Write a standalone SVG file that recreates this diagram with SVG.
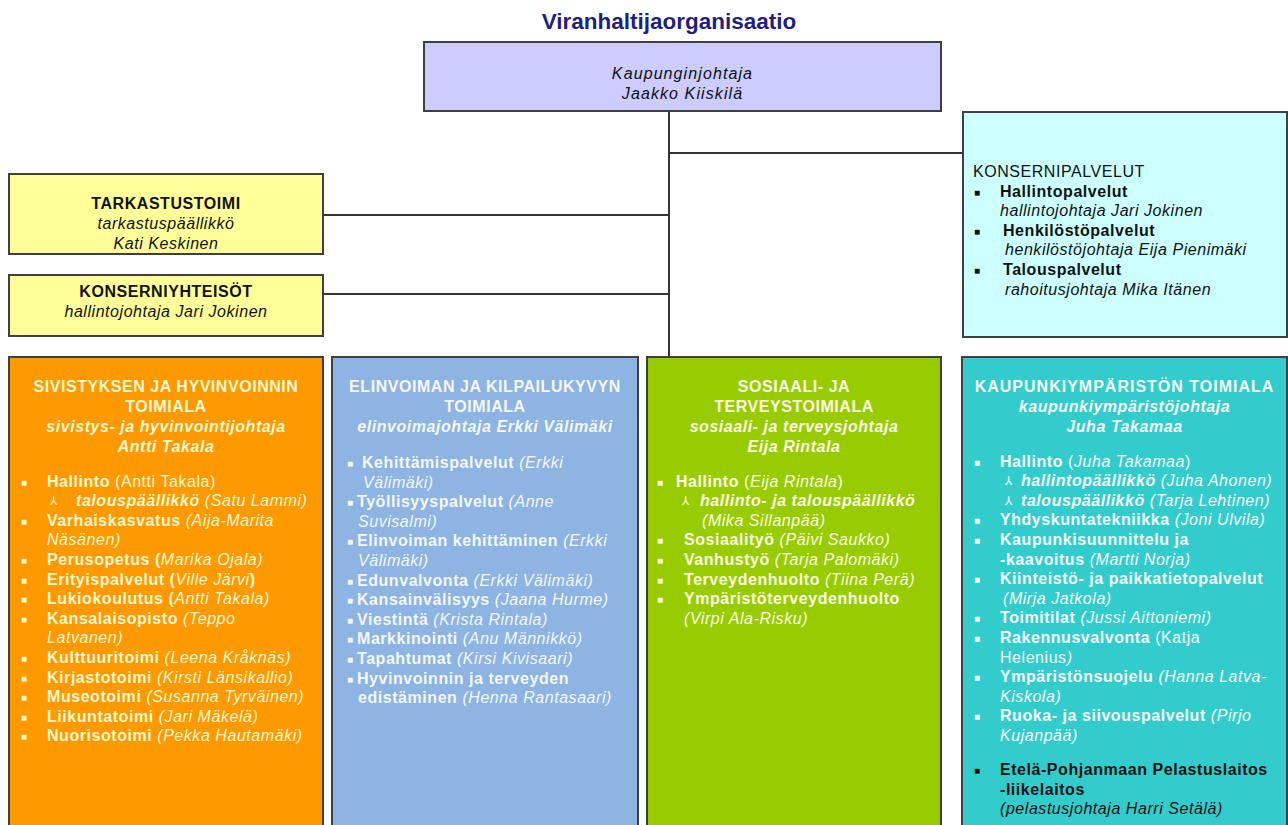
<svg xmlns="http://www.w3.org/2000/svg" width="1288" height="825" viewBox="0 0 1288 825">
<style>
.t{font-family:"Liberation Sans",Arial,"DejaVu Sans",sans-serif;font-size:16px;letter-spacing:0.55px}
.b{font-weight:bold}
.i{font-style:italic}
.n{font-weight:normal;font-style:normal}
.ni{font-weight:normal;font-style:italic}
.bi{font-weight:bold;font-style:italic}
.c{text-anchor:middle}
.box{stroke:#404040;stroke-width:2}
.k{fill:#111}
.fo{fill:#fff8d0}
.fb{fill:#f4f8ff}
.fg{fill:#fbffe6}
.ft{fill:#f6ffff}
.bul{font-family:"Liberation Sans","DejaVu Sans",sans-serif;font-size:10px}
.arr{font-family:"DejaVu Sans",sans-serif;font-size:12px}
.ln{stroke:#333;stroke-width:2;fill:none}
</style>
<rect width="1288" height="825" fill="#ffffff"/>
<text x="669" y="29" class="c" style="font-family:'Liberation Sans',Arial,sans-serif;font-size:22.5px;font-weight:bold;fill:#1f1f7f">Viranhaltijaorganisaatio</text>

<g id="connectors">
<line class="ln" x1="669" y1="111" x2="669" y2="357"/>
<line class="ln" x1="669" y1="153" x2="963" y2="153"/>
<line class="ln" x1="323" y1="215" x2="669" y2="215"/>
<line class="ln" x1="323" y1="294" x2="669" y2="294"/>
</g>

<g id="kaupunginjohtaja">
<rect class="box" x="424" y="42" width="517" height="69" fill="#ccccff"/>
<text x="682.5" y="79.3" class="t c ni k" style="letter-spacing:1.1px">Kaupunginjohtaja</text>
<text x="682.5" y="99" class="t c ni k" style="letter-spacing:1.1px">Jaakko Kiiskilä</text>
</g>

<g id="tarkastustoimi">
<rect class="box" x="9" y="174" width="314" height="80" fill="#ffff99"/>
<text x="166" y="209" class="t c b k">TARKASTUSTOIMI</text>
<text x="166" y="229" class="t c ni k">tarkastuspäällikkö</text>
<text x="166" y="249" class="t c ni k">Kati Keskinen</text>
</g>

<g id="konserniyhteisot">
<rect class="box" x="9" y="275" width="314" height="61" fill="#ffff99"/>
<text x="166" y="297" class="t c b k">KONSERNIYHTEISÖT</text>
<text x="166" y="316.5" class="t c ni k">hallintojohtaja Jari Jokinen</text>
</g>

<g id="konsernipalvelut">
<rect class="box" x="963" y="112" width="324" height="225" fill="#ccffff"/>
<text x="973" y="176.5" class="t k">KONSERNIPALVELUT</text>
<text x="974" y="195.5" class="bul k">■</text>
<text x="1000" y="196.5" class="t b k">Hallintopalvelut</text>
<text x="1000" y="216" class="t ni k">hallintojohtaja Jari Jokinen</text>
<text x="974" y="234.7" class="bul k">■</text>
<text x="1003" y="235.7" class="t b k">Henkilöstöpalvelut</text>
<text x="1005" y="255.3" class="t ni k">henkilöstöjohtaja Eija Pienimäki</text>
<text x="974" y="274" class="bul k">■</text>
<text x="1003" y="275" class="t b k">Talouspalvelut</text>
<text x="1005" y="294.7" class="t ni k">rahoitusjohtaja Mika Itänen</text>
</g>

<g id="sivistys">
<rect class="box" x="9" y="357" width="314" height="475" fill="#ff9900"/>
<text x="166" y="392" class="t c b fo">SIVISTYKSEN JA HYVINVOINNIN</text>
<text x="166" y="412" class="t c b fo">TOIMIALA</text>
<text x="166" y="432" class="t c bi fo">sivistys- ja hyvinvointijohtaja</text>
<text x="166" y="452" class="t c bi fo">Antti Takala</text>
<g class="bul fo">
<text x="21" y="485.5">■</text>
<text x="21" y="524.7">■</text>
<text x="21" y="563.9">■</text>
<text x="21" y="583.5">■</text>
<text x="21" y="603.1">■</text>
<text x="21" y="622.7">■</text>
<text x="21" y="661.9">■</text>
<text x="21" y="681.5">■</text>
<text x="21" y="701.1">■</text>
<text x="21" y="720.7">■</text>
<text x="21" y="740.3">■</text>
</g>
<text x="50" y="505" class="arr fo">⅄</text>
<g class="t b fo">
<text x="47" y="486.5">Hallinto <tspan class="n">(Antti Takala)</tspan></text>
<text x="76" y="506.1" class="bi">talouspäällikkö <tspan class="ni">(Satu Lammi)</tspan></text>
<text x="47" y="525.7">Varhaiskasvatus <tspan class="ni">(Aija-Marita</tspan></text>
<text x="47" y="545.3" class="ni">Näsänen)</text>
<text x="47" y="564.9">Perusopetus (<tspan class="ni">Marika Ojala)</tspan></text>
<text x="47" y="584.5">Erityispalvelut (<tspan class="ni">Ville Järvi</tspan>)</text>
<text x="47" y="604.1">Lukiokoulutus (<tspan class="ni">Antti Takala)</tspan></text>
<text x="47" y="623.7">Kansalaisopisto <tspan class="ni">(Teppo</tspan></text>
<text x="47" y="643.3" class="ni">Latvanen)</text>
<text x="47" y="662.9">Kulttuuritoimi <tspan class="ni">(Leena Kråknäs)</tspan></text>
<text x="47" y="682.5">Kirjastotoimi <tspan class="ni">(Kirsti Länsikallio)</tspan></text>
<text x="47" y="702.1">Museotoimi <tspan class="ni">(Susanna Tyrväinen)</tspan></text>
<text x="47" y="721.7">Liikuntatoimi <tspan class="ni">(Jari Mäkelä)</tspan></text>
<text x="47" y="741.3">Nuorisotoimi <tspan class="ni">(Pekka Hautamäki)</tspan></text>
</g>
</g>

<g id="elinvoima">
<rect class="box" x="332" y="357" width="306" height="475" fill="#8db4e2"/>
<text x="485" y="392" class="t c b fb">ELINVOIMAN JA KILPAILUKYVYN</text>
<text x="485" y="412" class="t c b fb">TOIMIALA</text>
<text x="485" y="432" class="t c bi fb">elinvoimajohtaja Erkki Välimäki</text>
<g class="bul fb">
<text x="347" y="467">■</text>
<text x="347" y="506.2">■</text>
<text x="347" y="545.4">■</text>
<text x="347" y="584.6">■</text>
<text x="347" y="604.2">■</text>
<text x="347" y="623.8">■</text>
<text x="347" y="643.4">■</text>
<text x="347" y="663">■</text>
<text x="347" y="682.6">■</text>
</g>
<g class="t b fb">
<text x="362" y="468">Kehittämispalvelut <tspan class="ni">(Erkki</tspan></text>
<text x="363" y="487.6" class="ni">Välimäki)</text>
<text x="357" y="507.2">Työllisyyspalvelut <tspan class="ni">(Anne</tspan></text>
<text x="358" y="526.8" class="ni">Suvisalmi)</text>
<text x="357" y="546.4">Elinvoiman kehittäminen <tspan class="ni">(Erkki</tspan></text>
<text x="358" y="566" class="ni">Välimäki)</text>
<text x="357" y="585.6">Edunvalvonta <tspan class="ni">(Erkki Välimäki)</tspan></text>
<text x="357" y="605.2">Kansainvälisyys <tspan class="ni">(Jaana Hurme)</tspan></text>
<text x="357" y="624.8">Viestintä <tspan class="ni">(Krista Rintala)</tspan></text>
<text x="357" y="644.4">Markkinointi <tspan class="ni">(Anu Männikkö)</tspan></text>
<text x="357" y="664">Tapahtumat <tspan class="ni">(Kirsi Kivisaari)</tspan></text>
<text x="357" y="683.6">Hyvinvoinnin ja terveyden</text>
<text x="358" y="703.2">edistäminen <tspan class="ni">(Henna Rantasaari)</tspan></text>
</g>
</g>

<g id="sosiaali">
<rect class="box" x="647" y="357" width="294" height="475" fill="#99cc00"/>
<text x="794" y="392" class="t c b fg">SOSIAALI- JA</text>
<text x="794" y="412" class="t c b fg">TERVEYSTOIMIALA</text>
<text x="794" y="432" class="t c bi fg">sosiaali- ja terveysjohtaja</text>
<text x="794" y="452" class="t c bi fg">Eija Rintala</text>
<g class="bul fg">
<text x="657" y="485.5">■</text>
<text x="657" y="544.3">■</text>
<text x="657" y="563.9">■</text>
<text x="657" y="583.5">■</text>
<text x="657" y="603.1">■</text>
</g>
<text x="682" y="505" class="arr fg">⅄</text>
<g class="t b fg">
<text x="676" y="486.5">Hallinto <tspan class="n">(</tspan><tspan class="ni">Eija Rintala</tspan><tspan class="n">)</tspan></text>
<text x="700" y="506.1" class="bi">hallinto- ja talouspäällikkö</text>
<text x="702" y="525.7" class="ni">(Mika Sillanpää)</text>
<text x="684" y="545.3">Sosiaalityö <tspan class="ni">(Päivi Saukko)</tspan></text>
<text x="684" y="564.9">Vanhustyö <tspan class="ni">(Tarja Palomäki)</tspan></text>
<text x="684" y="584.5">Terveydenhuolto <tspan class="ni">(Tiina Perä)</tspan></text>
<text x="684" y="604.1">Ympäristöterveydenhuolto</text>
<text x="684" y="623.7" class="ni">(Virpi Ala-Risku)</text>
</g>
</g>

<g id="kaupunkiymparisto">
<rect class="box" x="962" y="357" width="325" height="475" fill="#33cccc"/>
<text x="1124.5" y="392" class="t c b ft" style="letter-spacing:1px">KAUPUNKIYMPÄRISTÖN TOIMIALA</text>
<text x="1124.5" y="412" class="t c bi ft">kaupunkiympäristöjohtaja</text>
<text x="1124.5" y="432" class="t c bi ft">Juha Takamaa</text>
<g class="bul ft">
<text x="974" y="465.5">■</text>
<text x="974" y="524.3">■</text>
<text x="974" y="543.9">■</text>
<text x="974" y="583.1">■</text>
<text x="974" y="622.3">■</text>
<text x="974" y="641.9">■</text>
<text x="974" y="681.1">■</text>
<text x="974" y="720.3">■</text>
</g>
<text x="974" y="774" class="bul k">■</text>
<text x="1005" y="485" class="arr ft">⅄</text>
<text x="1005" y="504.6" class="arr ft">⅄</text>
<g class="t b ft">
<text x="1000" y="466.5">Hallinto <tspan class="n">(</tspan><tspan class="ni">Juha Takamaa</tspan><tspan class="n">)</tspan></text>
<text x="1021" y="486.1" class="bi">hallintopäällikkö <tspan class="ni">(Juha Ahonen)</tspan></text>
<text x="1021" y="505.7" class="bi">talouspäällikkö <tspan class="ni">(Tarja Lehtinen)</tspan></text>
<text x="1000" y="525.3">Yhdyskuntatekniikka <tspan class="ni">(Joni Ulvila)</tspan></text>
<text x="1000" y="544.9">Kaupunkisuunnittelu ja</text>
<text x="1000" y="564.5">-kaavoitus <tspan class="ni">(Martti Norja)</tspan></text>
<text x="1000" y="584.1">Kiinteistö- ja paikkatietopalvelut</text>
<text x="1003" y="603.7" class="ni">(Mirja Jatkola)</text>
<text x="1000" y="623.3">Toimitilat <tspan class="ni">(Jussi Aittoniemi)</tspan></text>
<text x="1000" y="642.9">Rakennusvalvonta <tspan class="n">(Katja</tspan></text>
<text x="1000" y="662.5" class="n">Helenius<tspan class="ni">)</tspan></text>
<text x="1000" y="682.1">Ympäristönsuojelu <tspan class="ni">(Hanna Latva-</tspan></text>
<text x="1000" y="701.7" class="ni">Kiskola)</text>
<text x="1000" y="721.3">Ruoka- ja siivouspalvelut <tspan class="ni">(Pirjo</tspan></text>
<text x="1000" y="740.9" class="ni">Kujanpää)</text>
</g>
<g class="t b k">
<text x="1000" y="775">Etelä-Pohjanmaan Pelastuslaitos</text>
<text x="1000" y="794.6">-liikelaitos</text>
<text x="1000" y="814.2" class="ni">(pelastusjohtaja Harri Setälä)</text>
</g>
</g>
</svg>
